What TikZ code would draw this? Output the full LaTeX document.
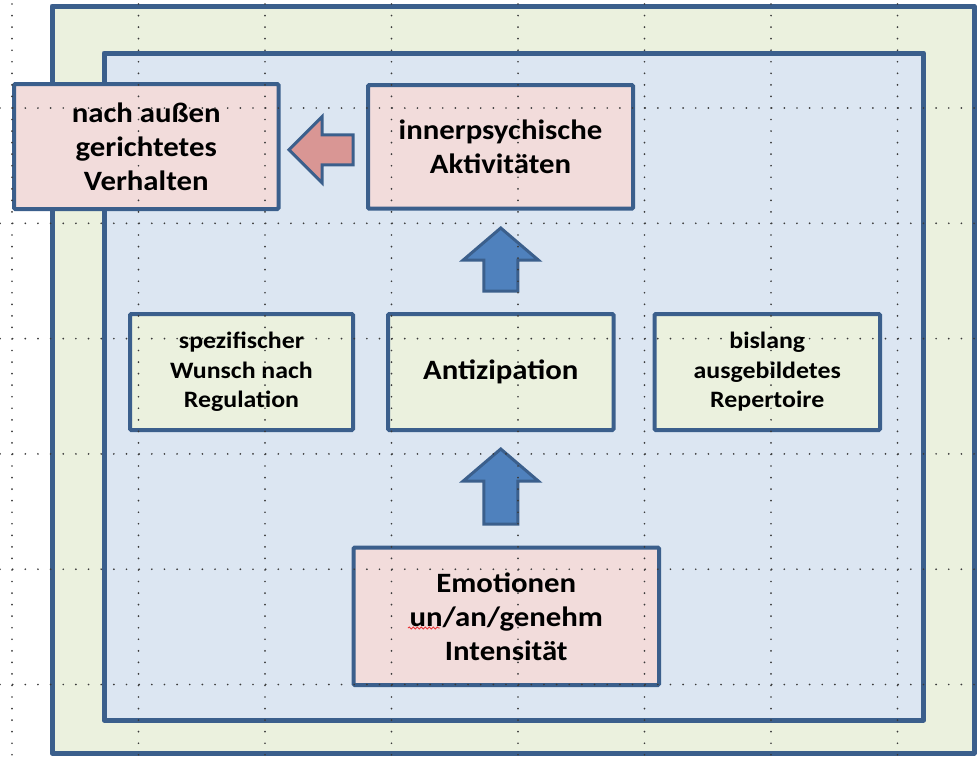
\documentclass[tikz,border=0pt]{standalone}
\usepackage{fontspec}
\newfontfamily\boxfont{Carlito}[FakeStretch=1.1]
\usetikzlibrary{calc,decorations.pathmorphing}

\definecolor{frameblue}{HTML}{3B5F8C}
\definecolor{paleGreen}{HTML}{EBF1DE}
\definecolor{paleBlue}{HTML}{DCE6F2}
\definecolor{palePink}{HTML}{F2DCDB}
\definecolor{arrowBlue}{HTML}{4F81BD}
\definecolor{arrowRose}{HTML}{D99694}
\definecolor{gridDot}{HTML}{3A3A3A}
\definecolor{squiggle}{HTML}{E8383B}

\begin{document}
\begin{tikzpicture}[x=1pt,y=-1pt,
  frame/.style={draw=frameblue, line width=5pt, line join=round},
  box/.style={draw=frameblue, line width=4pt, rounded corners=1.2pt,
    outer sep=0pt, inner sep=0pt, align=center, text=black},
  pinkbox/.style={box, fill=palePink,
    font=\boxfont\bfseries\fontsize{28}{34}\selectfont},
  greenbox/.style={box, fill=paleGreen,
    font=\boxfont\bfseries\fontsize{23.5}{29.5}\selectfont},
  keybox/.style={box, fill=paleGreen,
    font=\boxfont\bfseries\fontsize{28}{34}\selectfont},
  blockarrow/.style={draw=frameblue, line width=3pt},
  blockup/.style={blockarrow, fill=arrowBlue, to path={
    ($(\tikztostart)+(-17,0)$) -- ($(\tikztostart)+(17,0)$)
    -- ($(\tikztotarget)+(17,32)$) -- ($(\tikztotarget)+(37.5,32)$)
    -- (\tikztotarget) -- ($(\tikztotarget)+(-37.5,32)$)
    -- ($(\tikztotarget)+(-17,32)$) -- cycle}},
  blockleft/.style={blockarrow, fill=arrowRose, to path={
    ($(\tikztostart)+(0,-15)$) -- ($(\tikztostart)+(0,15)$)
    -- ($(\tikztotarget)+(33,15)$) -- ($(\tikztotarget)+(33,33)$)
    -- (\tikztotarget) -- ($(\tikztotarget)+(33,-33)$)
    -- ($(\tikztotarget)+(33,-15)$) -- cycle}},
  vdots/.style={draw=gridDot, line width=1.9pt, line cap=round,
    dash pattern=on 0pt off 11.55pt},
  hdots/.style={draw=gridDot, line width=1.9pt, line cap=round,
    dash pattern=on 0pt off 12.65pt}
]
\fill[white] (0,0) rectangle (980,756);
\useasboundingbox (0,0) rectangle (980,756);

% nested frames
\draw[frame, fill=paleGreen] (52,6) rectangle (974,753);
\draw[frame, fill=paleBlue] (104,53) rectangle (923.5,720);

% boxes
\node[pinkbox, minimum width=264.5pt, minimum height=125pt] (nach) at (146.25,146.5)
  {nach außen\\gerichtetes\\Verhalten};
\node[pinkbox, minimum width=265pt, minimum height=123.7pt] (inner) at (500.5,146.85)
  {innerpsychische\\Aktivitäten};
\node[greenbox, minimum width=223pt, minimum height=116pt] (spez) at (241.5,372)
  {spezifischer\\Wunsch nach\\Regulation};
\node[keybox, minimum width=225.5pt, minimum height=116pt] (antiz) at (500.75,372)
  {Antizipation};
\node[greenbox, minimum width=225.5pt, minimum height=116pt] (bis) at (767.25,372)
  {bislang\\ausgebildetes\\Repertoire};
\node[pinkbox, minimum width=305.5pt, minimum height=137.5pt] (emo) at (506.25,616.25)
  {Emotionen\\un/an/genehm\\Intensität};

% block arrows between the boxes
\coordinate (upAbase) at ($(antiz.north)+(0,-23)$);
\coordinate (upAtip) at ($(antiz.north |- inner.south)+(0,19.3)$);
\coordinate (upBbase) at ($(antiz.south |- emo.north)+(0,-23.5)$);
\coordinate (upBtip) at ($(antiz.south)+(0,19)$);
\coordinate (leftbase) at ($(inner.west)+(-15,3)$);
\coordinate (lefttip) at ($(nach.east |- leftbase)+(10.5,0)$);

\draw[blockup] (upAbase) to (upAtip);
\draw[blockup] (upBbase) to (upBtip);
\draw[blockleft] (leftbase) to (lefttip);

% spell-check squiggle under "un"
\draw[squiggle, line width=0.9pt, decorate,
  decoration={snake, amplitude=1pt, segment length=4pt}] (408,628) -- (440,628);

% dotted page grid on top
\foreach \gx in {12,138.5,265,391.5,518,644.5,771,897.5}
  \draw[vdots] (\gx,4) -- (\gx,756);
\foreach \gy in {108,223.3,338.6,453.9,569.2,684.5}
  \draw[hdots] (0,\gy) -- (980,\gy);
\end{tikzpicture}
\end{document}
